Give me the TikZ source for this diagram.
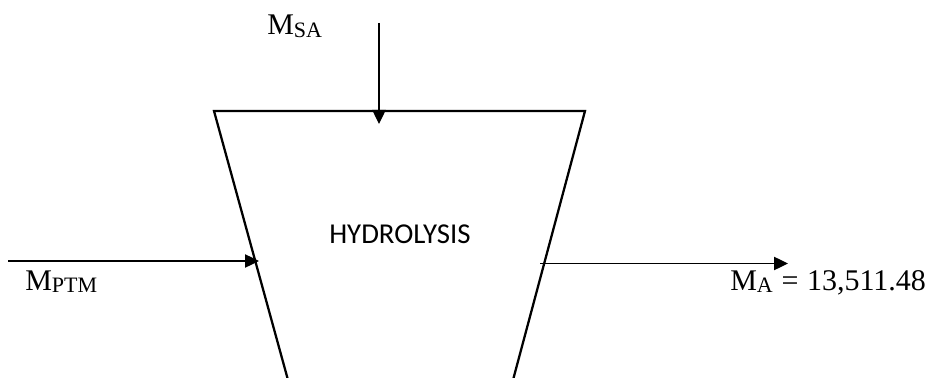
\documentclass[tikz,border=0pt]{standalone}
\usepackage{fontspec}
\setmainfont{Liberation Serif}
\newfontfamily\calib{Carlito}
\usetikzlibrary{arrows.meta}
\newcommand{\msub}[1]{\raisebox{-1.6pt}{\fontsize{16.5}{18}\selectfont #1}}
\tikzset{
  vessel/.style={line width=1.7pt, line join=miter},
  flow/.style={line width=0.95pt, -{Triangle[length=10.5pt,width=10pt]}},
  lbl/.style={inner sep=0pt, anchor=base west, font=\fontsize{22.5}{26}\selectfont},
}
\begin{document}
\begin{tikzpicture}[x=0.75pt,y=-0.75pt]
\useasboundingbox (0,0) rectangle (939,378);
% vessel corners
\coordinate (tl) at (214,111);
\coordinate (tr) at (585,111);
\coordinate (bl) at (288,380);
\coordinate (br) at (513,380);
\draw[vessel] (bl) -- (tl) -- (tr) -- (br);
% flow end points
\coordinate (sain) at (379,23);
\coordinate (satip) at (379,124);
\coordinate (ptmin) at (8,261);
\coordinate (ptmtip) at (259,261);
\coordinate (aout) at (540,263.5);
\coordinate (atip) at (788,263.5);
\draw[flow] (sain) -- (satip);
\draw[flow] (ptmin) -- (ptmtip);
\draw[flow] (aout) -- (atip);
% labels
\node[lbl] (msa) at (267,35) {M\msub{SA}};
\node[lbl] (mptm) at (25,290) {M\msub{PTM}};
\node[lbl] (ma) at (730,290) {M\msub{A}\hspace{6.5pt}=\hspace{6.5pt}13,511.48};
\node[inner sep=0pt, anchor=base, font=\calib\fontsize{21.6}{24}\selectfont] (hyd) at (400,243) {HYDROLYSIS};
\end{tikzpicture}
\end{document}
